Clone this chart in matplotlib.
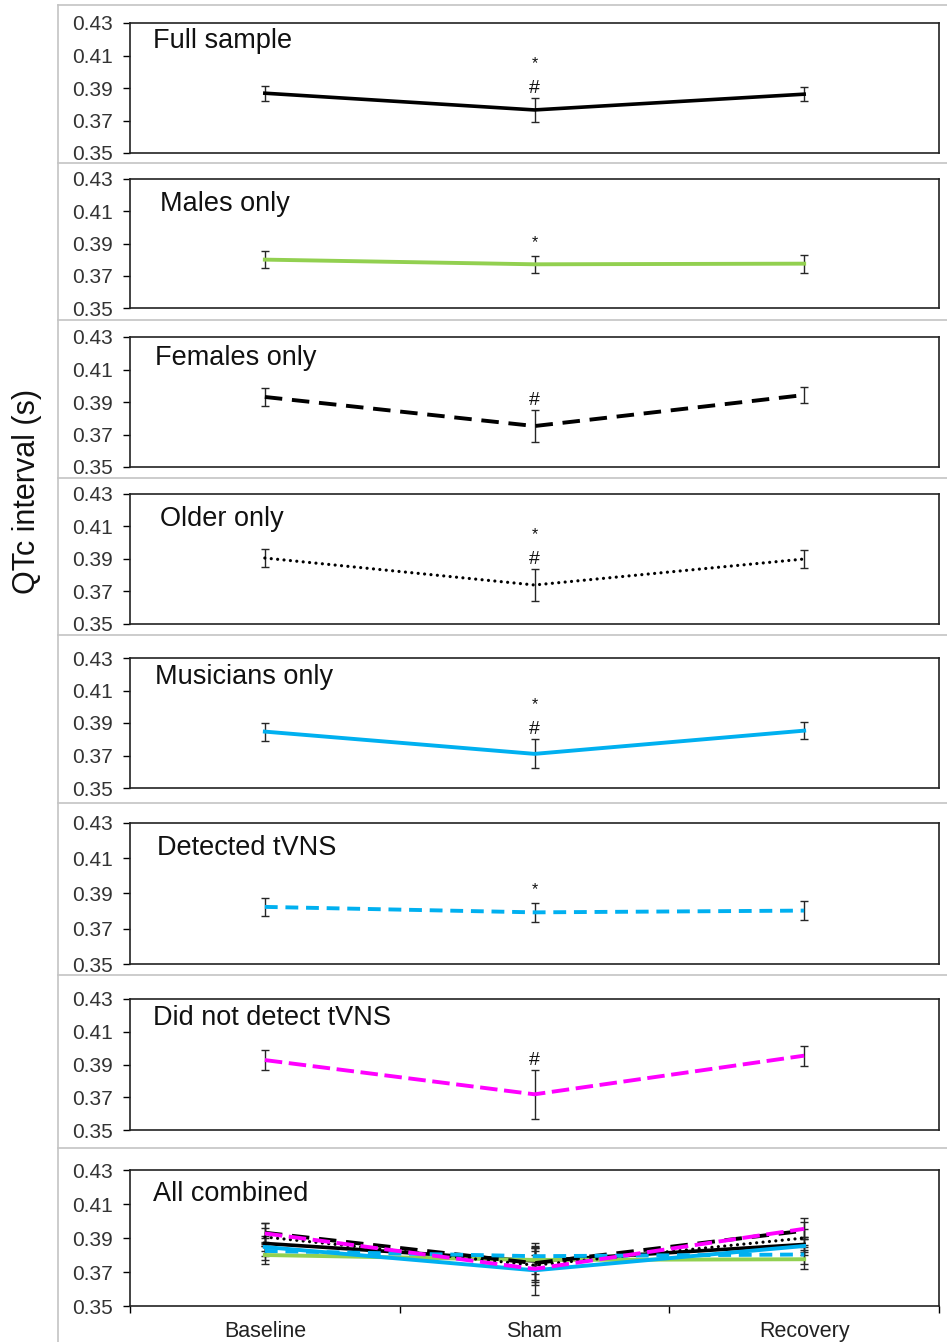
import numpy as np
import matplotlib
matplotlib.use("Agg")
import matplotlib.pyplot as plt
from matplotlib.lines import Line2D

plt.rcParams['font.family'] = ['Liberation Sans', 'DejaVu Sans']

# ==============================
# Data
# ==============================
conditions = ["Baseline", "Sham", "Recovery"]
groups = ["Full sample", "Males only", "Females only", "Older only",
          "Musicians only", "Detected tVNS", "Did not detect tVNS"]

full_mean      = [0.3868, 0.3765, 0.3862]
males_mean     = [0.3800, 0.3771, 0.3775]
females_mean   = [0.3931, 0.3752, 0.3943]
older_mean     = [0.3906, 0.3740, 0.3900]
musicians_mean = [0.3847, 0.3710, 0.3853]
detected_mean  = [0.3824, 0.3793, 0.3803]
notdet_mean    = [0.3927, 0.3718, 0.3954]

full_err      = [0.0045, 0.0074, 0.0045]
males_err     = [0.0055, 0.0052, 0.0055]
females_err   = [0.0058, 0.0100, 0.0050]
older_err     = [0.0055, 0.0101, 0.0053]
musicians_err = [0.0055, 0.0089, 0.0051]
detected_err  = [0.0053, 0.0052, 0.0054]
notdet_err    = [0.0061, 0.0151, 0.0061]

means = [full_mean, males_mean, females_mean, older_mean,
         musicians_mean, detected_mean, notdet_mean]
errs = [full_err, males_err, females_err, older_err,
        musicians_err, detected_err, notdet_err]

# significance marks at Sham
star_mark = [True, True, False, True, True, True, False]
hash_mark = [True, False, True, True, True, False, True]

# ==============================
# Styles
# ==============================
DOTS = (0, (0.01, 2.0))
colors = ['black', '#92d050', 'black', 'black', '#00b0f0', '#00b0f0', '#ff00ff']
styles = ['-', '-', (0, (4.5, 2.5)), DOTS, '-', (0, (3.3, 2.0)), (0, (4.5, 1.7))]
widths = [2.6, 2.8, 2.8, 2.3, 2.8, 2.8, 2.8]

W, H = 947, 1342
AX_L, AX_R = 130, 939
# panel (top, bottom) in pixels
panels_px = [(23, 153), (179, 308), (337, 467), (494, 624),
             (658, 788), (823, 964), (999, 1130), (1170, 1306)]
title_px = [(153, 25), (160, 32), (155, 28), (160, 32),
            (155, 26), (157, 32), (153, 26), (153, 31)]
seps_px = [163, 320, 478, 635, 803, 975, 1148]

fig = plt.figure(figsize=(W / 100, H / 100), dpi=100)

x = np.array([0.5, 1.5, 2.5])


def draw_series(ax, i):
    ax.errorbar(x, means[i], yerr=errs[i], fmt='none', ecolor='#262626',
                elinewidth=1.0, capsize=3, capthick=1.0, zorder=2)
    ln, = ax.plot(x, means[i], color=colors[i], lw=widths[i], zorder=3)
    ln.set_linestyle(styles[i])
    if styles[i] == DOTS:
        ln.set_dash_capstyle('round')


def setup_axis(ax, top, bot, title, tpos):
    ax.set_xlim(0, 3)
    ax.set_ylim(0.35, 0.43)
    ax.set_yticks([0.35, 0.37, 0.39, 0.41, 0.43])
    ax.set_yticklabels(["0.35", "0.37", "0.39", "0.41", "0.43"])
    ax.tick_params(axis='y', direction='out', length=5, width=1.0,
                   pad=7, labelsize=15, labelcolor='#333333')
    for s in ax.spines.values():
        s.set_linewidth(1.2)
        s.set_color('#222222')
    h = bot - top
    ax.text((tpos[0] - AX_L) / (AX_R - AX_L), 1 - tpos[1] / h, title,
            transform=ax.transAxes, fontsize=19.5, ha='left', va='baseline',
            color='#111111')


axes = []
for k, (top, bot) in enumerate(panels_px):
    ax = fig.add_axes([AX_L / W, 1 - bot / H, (AX_R - AX_L) / W, (bot - top) / H])
    axes.append(ax)
    title = groups[k] if k < len(groups) else "All combined"
    setup_axis(ax, top, bot, title, title_px[k])
    if k < len(groups):
        draw_series(ax, k)
        top_err = means[k][1] + errs[k][1]
        if hash_mark[k]:
            ax.annotate('#', (1.5, top_err), xytext=(0, 3.6), textcoords='offset points',
                        ha='center', va='baseline', fontsize=14, color='#111111')
        if star_mark[k]:
            off = 21.5 if hash_mark[k] else 6.5
            ax.annotate('*', (1.5, top_err), xytext=(0, off), textcoords='offset points',
                        ha='center', va='baseline', fontsize=11.5, color='#111111')
        ax.set_xticks([])
    else:
        for i in range(len(groups)):
            draw_series(ax, i)
        ax.set_xticks([0, 1, 2, 3])
        ax.set_xticklabels([])
        ax.set_xticks(x, minor=True)
        ax.set_xticklabels(conditions, minor=True)
        ax.tick_params(axis='x', which='major', direction='out', length=5, width=1.0)
        ax.tick_params(axis='x', which='minor', length=0, pad=11,
                       labelsize=15.5, labelcolor='#222222')

# frame lines from the pasted layout
gray = '#c4c4c4'
fig.add_artist(Line2D([58 / W, 58 / W], [0, 1 - 5 / H], color=gray, lw=1.2))
fig.add_artist(Line2D([58 / W, 1], [1 - 5 / H, 1 - 5 / H], color=gray, lw=1.2))
for y in seps_px:
    fig.add_artist(Line2D([58 / W, 1], [1 - y / H, 1 - y / H], color=gray, lw=1.2))

fig.text(27 / W, 1 - 491 / H, "QTc interval (s)", rotation=90,
         ha='center', va='center', fontsize=22, color='#111111')

fig.savefig("out.png", dpi=100)
